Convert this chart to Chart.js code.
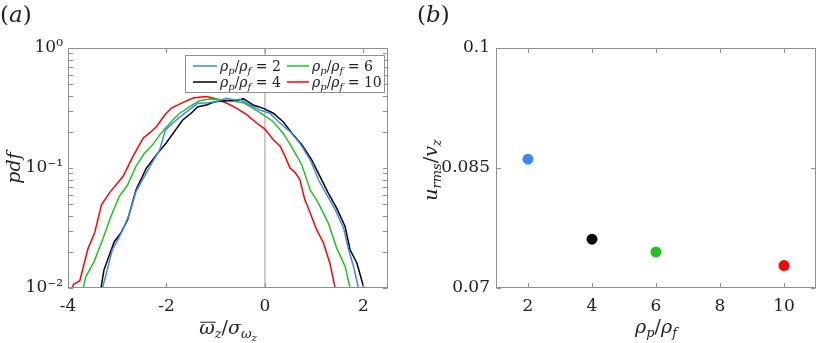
<!DOCTYPE html>
<html><head><meta charset="utf-8">
<script src="https://cdn.jsdelivr.net/npm/chart.js@4/dist/chart.umd.min.js"></script>
<style>
html,body{margin:0;padding:0;background:#fff;}
#wrap{position:relative;width:830px;height:343px;overflow:hidden;}
.pane{position:absolute;top:0;width:415px;height:343px;}
</style></head><body>
<div id="wrap">
<div class="pane" style="left:0"><canvas id="ca"></canvas></div>
<div class="pane" style="left:415px"><canvas id="cb"></canvas></div>
</div>
<script>
// ---------- data (panel a): pdf of normalised vorticity ----------
const xRho2 = [-3.30,-3.23,-3.10,-2.99,-2.89,-2.76,-2.62,-2.45,-2.28,-2.14,-2.02,-1.84,-1.67,-1.50,-1.36,-1.16,-0.99,-0.78,-0.61,-0.51,-0.31,-0.10,0.10,0.31,0.51,0.71,0.92,1.09,1.26,1.43,1.60,1.70,1.80,1.90];
const pdfRho2 = [0.0100,0.0128,0.0208,0.0251,0.0304,0.0406,0.0635,0.0847,0.113,0.141,0.208,0.243,0.277,0.314,0.346,0.350,0.357,0.381,0.369,0.373,0.335,0.304,0.286,0.236,0.201,0.161,0.117,0.0794,0.0595,0.0447,0.0314,0.0208,0.0151,0.0100];
const xRho4 = [-3.33,-3.27,-3.16,-3.06,-2.93,-2.79,-2.62,-2.41,-2.21,-2.01,-1.84,-1.67,-1.50,-1.36,-1.19,-1.02,-0.78,-0.51,-0.44,-0.24,-0.03,0.17,0.37,0.58,0.75,0.95,1.12,1.29,1.46,1.63,1.73,1.87,2.01];
const pdfRho4 = [0.0100,0.0141,0.0188,0.0243,0.0286,0.0369,0.0656,0.0993,0.128,0.161,0.201,0.251,0.286,0.324,0.335,0.357,0.364,0.369,0.378,0.335,0.314,0.286,0.243,0.188,0.156,0.117,0.0847,0.0615,0.0461,0.0324,0.0208,0.0161,0.0100];
const xRho6 = [-3.69,-3.64,-3.47,-3.30,-3.13,-2.96,-2.79,-2.62,-2.45,-2.28,-2.14,-2.02,-1.87,-1.73,-1.53,-1.33,-1.12,-0.92,-0.71,-0.44,-0.24,-0.03,0.17,0.37,0.54,0.75,0.92,1.09,1.29,1.46,1.63,1.73];
const pdfRho6 = [0.0100,0.0124,0.0166,0.0251,0.0393,0.0577,0.0721,0.103,0.132,0.156,0.188,0.214,0.251,0.286,0.324,0.364,0.376,0.373,0.364,0.350,0.314,0.277,0.243,0.195,0.151,0.106,0.0656,0.0508,0.0346,0.0214,0.0151,0.0100];
const xRho10 = [-3.92,-3.89,-3.76,-3.59,-3.46,-3.32,-3.15,-2.88,-2.68,-2.47,-2.34,-2.20,-2.03,-1.90,-1.66,-1.46,-1.19,-0.98,-0.78,-0.58,-0.37,-0.17,0.00,0.17,0.31,0.41,0.51,0.61,0.71,0.81,0.92,1.05,1.19,1.32,1.42,1.46];
const pdfRho10 = [0.0095,0.0107,0.0115,0.0215,0.0287,0.0494,0.0627,0.0853,0.125,0.178,0.196,0.222,0.278,0.316,0.352,0.383,0.395,0.376,0.348,0.316,0.278,0.237,0.211,0.172,0.152,0.125,0.100,0.092,0.080,0.0545,0.0422,0.0306,0.0237,0.0161,0.0103,0.0095];
const pdfXTicks = [-4,-2,0,2];
const pdfYTicks = [0.01,0.1,1];
const pdfYTickLabels = ['10\u207B\u00B2','10\u207B\u00B9','10\u2070'];
const seriesLabels = ['2','4','6','10'];

// ---------- data (panel b): u_rms / v_z against density ratio ----------
const densityRatios = [2,4,6,10];
const urmsValues = [0.0861,0.0761,0.0745,0.0728];
const ratioTicks = [2,4,6,8,10];
const urmsTicks = [0.07,0.085,0.1];
const urmsTickLabels = ['0.07','0.085','0.1'];

// ---------- styling ----------
const COLORS = ['#3f87f6','#000000','#1fc41f','#ff0000'];
const FONT = '"DejaVu Serif"';
const FRAME = '#8f8f8f';
const TXT = '#222222';
Chart.defaults.font.family = FONT;

function segFont(s, size){
  const f = s.sub ? 0.7 : (s.sub2 ? 0.55 : 1);
  return (s.it ? 'italic ' : '') + Math.round(size*f) + 'px ' + FONT;
}
function drawRich(ctx, segs, x, y, size, align){
  ctx.save();
  ctx.fillStyle = TXT; ctx.strokeStyle = TXT;
  ctx.textBaseline = 'alphabetic'; ctx.textAlign = 'left';
  const widths = segs.map(s=>{ctx.font = segFont(s,size); return ctx.measureText(s.t).width + (s.gap||0);});
  const total = widths.reduce((a,b)=>a+b,0);
  let cx = align==='center' ? x - total/2 : (align==='right' ? x-total : x);
  segs.forEach((s,i)=>{
    ctx.font = segFont(s,size);
    const dy = s.sub ? size*0.22 : (s.sub2 ? size*0.38 : 0);
    ctx.fillText(s.t, cx, y+dy);
    if (s.bar){
      ctx.lineWidth = 1;
      ctx.beginPath(); ctx.moveTo(cx+1, y-size*0.62); ctx.lineTo(cx+widths[i]+1, y-size*0.62); ctx.stroke();
    }
    cx += widths[i];
  });
  ctx.restore();
}
function rhoSegs(extra){
  const s = [{t:'\u03C1',it:1},{t:'p',it:1,sub:1},{t:'/'},{t:'\u03C1',it:1},{t:'f',it:1,sub:1}];
  if (extra) s.push({t:' = '+extra});
  return s;
}

function framePlugin(xt, yt){
  return {
    id:'frameTicks',
    afterDraw(chart){
      const {ctx, chartArea:a, scales:{x,y}} = chart;
      ctx.save(); ctx.strokeStyle = FRAME; ctx.lineWidth = 1;
      const L = 4.5;
      const l = Math.round(a.left)+0.5, r = Math.round(a.right)-0.5, t = Math.round(a.top)+0.5, b = Math.round(a.bottom)-0.5;
      ctx.strokeRect(l, t, r-l, b-t);
      ctx.beginPath();
      xt.forEach(v=>{const p = Math.round(x.getPixelForValue(v))+0.5; ctx.moveTo(p,b); ctx.lineTo(p,b-L); ctx.moveTo(p,t); ctx.lineTo(p,t+L);});
      yt.forEach(v=>{const p = Math.round(y.getPixelForValue(v))+0.5; ctx.moveTo(l,p); ctx.lineTo(l+L,p); ctx.moveTo(r,p); ctx.lineTo(r-L,p);});
      ctx.stroke();
      ctx.restore();
    }
  };
}

const logTickPositions = [];
for (let i=0;i<pdfYTicks.length-1;i++){ for (let m=1;m<10;m++) logTickPositions.push(pdfYTicks[i]*m); }
logTickPositions.push(pdfYTicks[pdfYTicks.length-1]);

const annotA = {
  id:'annotA',
  afterDraw(chart){
    const {ctx, chartArea:a} = chart;
    drawRich(ctx, [{t:'('},{t:'a',it:1},{t:')'}], 0, 22, 23, 'left');
    drawRich(ctx, [{t:'\u03C9',it:1,bar:1},{t:'z',it:1,sub:1},{t:'/'},{t:'\u03C3',it:1},{t:'\u03C9',it:1,sub:1},{t:'z',it:1,sub2:1}], (a.left+a.right)/2, 334, 19, 'center');
    ctx.save(); ctx.translate(20, (a.top+a.bottom)/2); ctx.rotate(-Math.PI/2);
    drawRich(ctx, [{t:'pdf',it:1}], 0, 0, 19, 'center');
    ctx.restore();
    const bx = a.right-203, by = a.top+7, bw = 199, bh = 37;
    ctx.save(); ctx.fillStyle='#fff'; ctx.fillRect(bx,by,bw,bh);
    ctx.strokeStyle = FRAME; ctx.lineWidth=1; ctx.strokeRect(Math.round(bx)+0.5, Math.round(by)+0.5, bw, bh); ctx.restore();
    const cols = [bx+8, bx+102];
    const order = [0,2,1,3];
    order.forEach((si,k)=>{
      const col = k%2, row = Math.floor(k/2);
      const lx = cols[col], ly = by+11+row*16;
      ctx.save(); ctx.strokeStyle = COLORS[si]; ctx.lineWidth = 1.5;
      ctx.beginPath(); ctx.moveTo(lx, ly); ctx.lineTo(lx+(col?22:24), ly); ctx.stroke(); ctx.restore();
      drawRich(ctx, rhoSegs(seriesLabels[si]), lx+(col?25:27), ly+5, 14, 'left');
    });
  }
};

const annotB = {
  id:'annotB',
  afterDraw(chart){
    const {ctx, chartArea:a} = chart;
    drawRich(ctx, [{t:'('},{t:'b',it:1},{t:')'}], 2, 22, 23, 'left');
    drawRich(ctx, rhoSegs(), (a.left+a.right)/2, 333, 19, 'center');
    ctx.save(); ctx.translate(22, (a.top+a.bottom)/2 + 2); ctx.rotate(-Math.PI/2);
    drawRich(ctx, [{t:'u',it:1},{t:'rms',it:1,sub:1},{t:'/'},{t:'v',it:1},{t:'z',it:1,sub:1}], 0, 0, 19, 'center');
    ctx.restore();
  }
};

const tickFont = {family: FONT, size: 17};

function lineDs(label, xs, ys, color){
  return {label, data: xs.map((v,i)=>({x:v,y:ys[i]})), showLine:true, borderColor:color, backgroundColor:color,
    borderWidth:1.5, pointRadius:0, tension:0, fill:false, clip:0, order:0};
}

new Chart(document.getElementById('ca'), {
  type:'scatter',
  data:{datasets:[
    {label:'x = 0', data:[{x:0,y:0.01},{x:0,y:1}], showLine:true, borderColor:'#9a9a9a', borderWidth:1, pointRadius:0, clip:0, order:5},
    lineDs('\u03C1p/\u03C1f = 2', xRho2, pdfRho2, COLORS[0]),
    lineDs('\u03C1p/\u03C1f = 4', xRho4, pdfRho4, COLORS[1]),
    lineDs('\u03C1p/\u03C1f = 6', xRho6, pdfRho6, COLORS[2]),
    lineDs('\u03C1p/\u03C1f = 10', xRho10, pdfRho10, COLORS[3])
  ]},
  options:{
    responsive:true, maintainAspectRatio:false, animation:false,
    layout:{padding:{left:0, top:48, right:27, bottom:0}},
    plugins:{legend:{display:false}, tooltip:{enabled:false}},
    scales:{
      x:{type:'linear', min:-4, max:2.5,
        afterBuildTicks:s=>{s.ticks = pdfXTicks.map(v=>({value:v}));},
        afterFit:s=>{s.height = 55;},
        grid:{display:false, drawTicks:false}, border:{display:false},
        ticks:{font:tickFont, color:TXT, padding:8, maxRotation:0, callback:v=>String(v)}},
      y:{type:'logarithmic', min:0.01, max:1,
        afterBuildTicks:s=>{s.ticks = pdfYTicks.map(v=>({value:v, major:true}));},
        afterFit:s=>{s.width = 68;},
        grid:{display:false, drawTicks:false}, border:{display:false},
        ticks:{font:tickFont, color:TXT, padding:5, callback:(v)=>{const i = pdfYTicks.findIndex(t=>Math.abs(t-v)<1e-9); return i>=0 ? pdfYTickLabels[i] : '';}}}
    }
  },
  plugins:[framePlugin(pdfXTicks, logTickPositions), annotA]
});

new Chart(document.getElementById('cb'), {
  type:'scatter',
  data:{datasets:[{label:'u_rms / v_z', data: densityRatios.map((v,i)=>({x:v,y:urmsValues[i]})),
    pointBackgroundColor:COLORS, pointBorderColor:COLORS, pointBorderWidth:0, pointRadius:5.5, showLine:false}]},
  options:{
    responsive:true, maintainAspectRatio:false, animation:false,
    layout:{padding:{left:0, top:48, right:14, bottom:0}},
    plugins:{legend:{display:false}, tooltip:{enabled:false}},
    scales:{
      x:{type:'linear', min:1, max:11,
        afterBuildTicks:s=>{s.ticks = ratioTicks.map(v=>({value:v}));},
        afterFit:s=>{s.height = 55;},
        grid:{display:false, drawTicks:false}, border:{display:false},
        ticks:{font:tickFont, color:TXT, padding:8, maxRotation:0, callback:v=>String(v)}},
      y:{type:'linear', min:0.07, max:0.1,
        afterBuildTicks:s=>{s.ticks = urmsTicks.map(v=>({value:v}));},
        afterFit:s=>{s.width = 81;},
        grid:{display:false, drawTicks:false}, border:{display:false},
        ticks:{font:tickFont, color:TXT, padding:6, callback:(v)=>{const i = urmsTicks.findIndex(t=>Math.abs(t-v)<1e-9); return i>=0 ? urmsTickLabels[i] : '';}}}
    }
  },
  plugins:[framePlugin(ratioTicks, urmsTicks), annotB]
});
</script>
</body></html>
